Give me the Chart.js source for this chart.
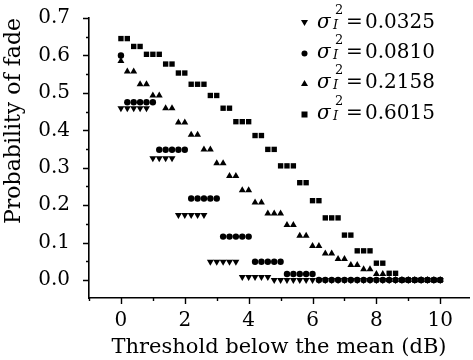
<!DOCTYPE html>
<html>
<head>
<meta charset="utf-8">
<script src="https://cdn.jsdelivr.net/npm/chart.js@4/dist/chart.umd.min.js"></script>
<style>
  html, body { margin: 0; padding: 0; background: #fff; }
  #wrap { position: relative; width: 473px; height: 360px; overflow: hidden; }
  #chart { position: absolute; left: 0; top: 0; }
  .leg { position: absolute; font-family: "DejaVu Serif", serif; color: #000; white-space: nowrap; line-height: 20px; }
  .sig { font-size: 20px; font-style: italic; }
  .small { font-size: 13px; line-height: 13px; }
  .it { font-style: italic; }
  .val { font-size: 20px; }
</style>
</head>
<body>
<div id="wrap">
  <canvas id="chart" width="473" height="360"></canvas>
  <div id="legend"></div>
</div>
<script>
const FONT = "DejaVu Serif"

// threshold below the mean (dB)
const thresholds = [0, 0.2, 0.4, 0.6, 0.8, 1, 1.2, 1.4, 1.6, 1.8, 2, 2.2, 2.4, 2.6, 2.8, 3, 3.2, 3.4, 3.6, 3.8,
  4, 4.2, 4.4, 4.6, 4.8, 5, 5.2, 5.4, 5.6, 5.8, 6, 6.2, 6.4, 6.6, 6.8, 7, 7.2, 7.4, 7.6, 7.8,
  8, 8.2, 8.4, 8.6, 8.8, 9, 9.2, 9.4, 9.6, 9.8, 10]

// probability of fade, one list per scintillation index
const fade0325 = [0.459, 0.459, 0.459, 0.459, 0.459, 0.325, 0.325, 0.325, 0.325, 0.174, 0.174, 0.174, 0.174, 0.174,
  0.049, 0.049, 0.049, 0.049, 0.049, 0.008, 0.008, 0.008, 0.008, 0.008, 0, 0, 0, 0, 0, 0,
  0, 0, 0, 0, 0, 0, 0, 0, 0, 0, 0, 0, 0, 0, 0, 0, 0, 0, 0, 0, 0]
const fade0810 = [0.600, 0.475, 0.475, 0.475, 0.475, 0.475, 0.348, 0.348, 0.348, 0.348, 0.348, 0.218, 0.218, 0.218,
  0.218, 0.218, 0.116, 0.116, 0.116, 0.116, 0.116, 0.049, 0.049, 0.049, 0.049, 0.049, 0.016, 0.016, 0.016, 0.016,
  0.016, 0, 0, 0, 0, 0, 0, 0, 0, 0, 0, 0, 0, 0, 0, 0, 0, 0, 0, 0, 0]
const fade2158 = [0.585, 0.557, 0.557, 0.523, 0.523, 0.493, 0.493, 0.459, 0.459, 0.421, 0.421, 0.388, 0.388, 0.349,
  0.349, 0.312, 0.312, 0.278, 0.278, 0.240, 0.240, 0.207, 0.207, 0.178, 0.178, 0.178, 0.147, 0.147, 0.118, 0.118,
  0.091, 0.091, 0.071, 0.071, 0.056, 0.056, 0.040, 0.040, 0.029, 0.029, 0.016, 0.016, 0, 0, 0, 0, 0, 0, 0, 0, 0]
const fade6015 = [0.645, 0.645, 0.624, 0.624, 0.603, 0.603, 0.603, 0.577, 0.577, 0.553, 0.553, 0.523, 0.523, 0.523,
  0.493, 0.493, 0.459, 0.459, 0.423, 0.423, 0.423, 0.386, 0.386, 0.349, 0.349, 0.305, 0.305, 0.305, 0.260, 0.260,
  0.212, 0.212, 0.166, 0.166, 0.166, 0.120, 0.120, 0.078, 0.078, 0.078, 0.045, 0.045, 0.018, 0.018, 0, 0, 0, 0, 0, 0, 0]

const variances = ["0.0325", "0.0810", "0.2158", "0.6015"]

const xMajor = [0, 2, 4, 6, 8, 10]
const xMinor = [-1, 1, 3, 5, 7, 9]
const yMajor = [0, 0.1, 0.2, 0.3, 0.4, 0.5, 0.6, 0.7]
const yMinor = [0.05, 0.15, 0.25, 0.35, 0.45, 0.55, 0.65]

const series = [
  { values: fade0325, style: "triangle", rotation: 180, radius: 4 },
  { values: fade0810, style: "circle", rotation: 0, radius: 3.2 },
  { values: fade2158, style: "triangle", rotation: 0, radius: 4 },
  { values: fade6015, style: "rect", rotation: 0, radius: 3.8 },
]

// outward tick marks, long on labelled values and short in between
const tickMarks = {
  id: "tickMarks",
  afterDraw(chart) {
    const { ctx, scales: { x, y } } = chart
    ctx.save()
    ctx.strokeStyle = "#000"
    ctx.lineWidth = 1.4
    ctx.beginPath()
    xMajor.concat(xMinor).forEach(v => {
      const px = Math.round(x.getPixelForValue(v)) + 0.5
      const len = xMajor.includes(v) ? 6 : 3
      ctx.moveTo(px, x.top)
      ctx.lineTo(px, x.top + len)
    })
    yMajor.concat(yMinor).forEach(v => {
      const py = Math.round(y.getPixelForValue(v)) + 0.5
      const len = yMajor.includes(v) ? 6 : 3
      ctx.moveTo(y.right, py)
      ctx.lineTo(y.right - len, py)
    })
    ctx.stroke()
    ctx.restore()
  }
}

const chart = new Chart(document.getElementById("chart"), {
  type: "scatter",
  data: {
    datasets: series.map((s, i) => ({
      label: variances[i],
      data: thresholds.map((t, j) => ({ x: t, y: s.values[j] })),
      pointStyle: s.style,
      rotation: s.rotation,
      pointRadius: s.radius,
      backgroundColor: "#000",
      borderColor: "#000",
      borderWidth: 0,
    }))
  },
  options: {
    responsive: false,
    animation: false,
    events: [],
    layout: { padding: { top: 18, right: 0, left: 0, bottom: 0 } },
    plugins: { legend: { display: false }, tooltip: { enabled: false } },
    scales: {
      x: {
        type: "linear",
        min: -1,
        max: 10.9,
        afterBuildTicks: s => { s.ticks = xMajor.map(v => ({ value: v })) },
        afterFit: s => { s.height = 62; s.paddingLeft = 0; s.paddingRight = 0 },
        grid: { display: true, drawOnChartArea: false, drawTicks: false },
        border: { display: true, color: "#000", width: 1.6 },
        ticks: {
          color: "#000", font: { family: FONT, size: 20 }, padding: 11,
          maxRotation: 0, autoSkip: false, callback: v => String(v)
        },
        title: {
          display: true, text: "Threshold below the mean (dB)", color: "#000",
          font: { family: FONT, size: 21 }, padding: { top: 0, bottom: 0 }
        }
      },
      y: {
        type: "linear",
        min: -0.048,
        max: 0.7,
        afterBuildTicks: s => { s.ticks = yMajor.map(v => ({ value: v })) },
        afterFit: s => { s.width = 89; s.paddingTop = 0; s.paddingBottom = 0 },
        grid: { display: true, drawOnChartArea: false, drawTicks: false },
        border: { display: true, color: "#000", width: 1.6 },
        ticks: {
          color: "#000", font: { family: FONT, size: 20 }, padding: 19,
          callback: v => v.toFixed(1)
        },
        title: {
          display: true, text: "Probability of fade", color: "#000", align: "end",
          font: { family: FONT, size: 22 }, padding: { top: 1, bottom: 0 }
        }
      }
    }
  },
  plugins: [tickMarks]
})

// legend with stacked super/subscript, built as real text
const legendRows = [21, 51, 81, 112]
const markerSvg = [
  '<polygon points="0,0 7,0 3.5,6" />',
  '<circle cx="3.5" cy="3.5" r="3" />',
  '<polygon points="0,6 7,6 3.5,0" />',
  '<rect x="0.5" y="0.5" width="6" height="6" />',
]
const legend = document.getElementById("legend")
variances.forEach((v, i) => {
  const c = legendRows[i]
  legend.insertAdjacentHTML("beforeend",
    `<svg class="leg" style="left:301px;top:${c - 1}px" width="7" height="7">${markerSvg[i]}</svg>` +
    `<span class="leg sig" style="left:317px;top:${c - 10}px">σ</span>` +
    `<span class="leg small" style="left:335px;top:${c - 18}px">2</span>` +
    `<span class="leg small it" style="left:333px;top:${c - 3}px">I</span>` +
    `<span class="leg val" style="left:346px;top:${c - 10}px">=</span>` +
    `<span class="leg val" style="left:365px;top:${c - 10}px">${v}</span>`)
})
</script>
</body>
</html>
